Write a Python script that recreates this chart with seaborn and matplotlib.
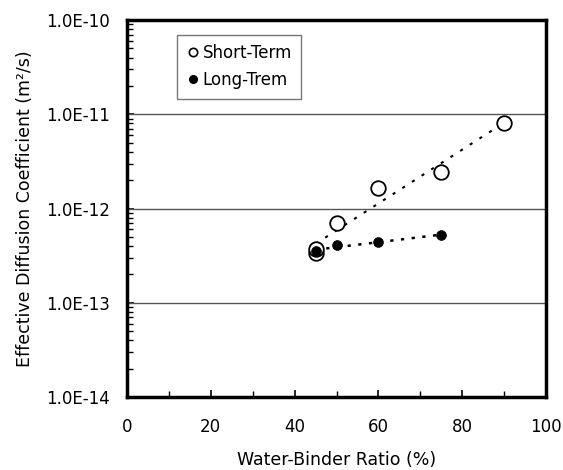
import numpy as np
import pandas as pd
import matplotlib
matplotlib.use("Agg")
import matplotlib.pyplot as plt
from matplotlib.ticker import FixedLocator, LogLocator, NullFormatter, MultipleLocator
from matplotlib.lines import Line2D
import seaborn as sns

# Data
short_wb = [45, 45, 50, 60, 75, 90]
short_d = [3.4e-13, 3.7e-13, 7.1e-13, 1.64e-12, 2.45e-12, 8.1e-12]
long_wb = [45, 50, 60, 75]
long_d = [3.5e-13, 4.1e-13, 4.37e-13, 5.25e-13]
y_ticks = [1e-14, 1e-13, 1e-12, 1e-11, 1e-10]
y_tick_labels = ["1.0E-14", "1.0E-13", "1.0E-12", "1.0E-11", "1.0E-10"]
x_ticks = [0, 20, 40, 60, 80, 100]

sns.set_theme(style="white")
plt.rcParams["font.family"] = ["DejaVu Sans"]
plt.rcParams["text.color"] = "black"

fig = plt.figure(figsize=(5.63, 4.70), dpi=100)
ax = fig.add_axes([127 / 563, 1 - 397 / 470, 419 / 563, 377 / 470])

# exponential trend lines (fit in log space)
def trend(x, y):
    x = np.asarray(x, float)
    c = np.polyfit(x, np.log10(y), 1)
    xs = np.linspace(x.min(), x.max(), 50)
    return xs, 10 ** np.polyval(c, xs)

xs, ys = trend(short_wb, short_d)
ax.plot(xs, ys, color="black", lw=1.5, ls=(0, (1.5, 4.0)), zorder=2)
xl, yl = trend(long_wb, long_d)
ax.plot(xl, yl, color="black", lw=1.8, ls=(0, (1.3, 3.0)), zorder=2)

df_s = pd.DataFrame({"x": short_wb, "y": short_d})
df_l = pd.DataFrame({"x": long_wb, "y": long_d})
sns.scatterplot(data=df_s, x="x", y="y", ax=ax, marker="o", s=110,
                facecolor="white", edgecolor="black", linewidth=1.3,
                zorder=3, legend=False)
sns.scatterplot(data=df_l, x="x", y="y", ax=ax, marker="o", s=50,
                color="black", edgecolor="black", linewidth=0.5,
                zorder=4, legend=False)

ax.set_yscale("log")
ax.set_xlim(0, 100)
ax.set_ylim(1e-14, 1e-10)
ax.yaxis.set_major_locator(FixedLocator(y_ticks))
ax.set_yticklabels(y_tick_labels)
ax.yaxis.set_minor_locator(LogLocator(base=10, subs=np.arange(2, 10)))
ax.yaxis.set_minor_formatter(NullFormatter())
ax.xaxis.set_major_locator(FixedLocator(x_ticks))
ax.set_xticklabels([str(v) for v in x_ticks])
ax.xaxis.set_minor_locator(MultipleLocator(10))

ax.grid(False)
for v in y_ticks[1:-1]:
    ax.axhline(v, color="#555555", lw=1.0, zorder=1)

for s in ax.spines.values():
    s.set_color("black")
    s.set_linewidth(2.5)

ax.tick_params(axis="both", which="both", direction="in", colors="black",
               labelsize=12, left=True, bottom=True, right=False, top=False)
ax.tick_params(axis="both", which="major", length=5, width=1.2)
ax.tick_params(axis="both", which="minor", length=4, width=1.0)
ax.tick_params(axis="y", which="major", pad=12)
ax.tick_params(axis="x", which="major", pad=15)

ax.set_xlabel("Water-Binder Ratio (%)", fontsize=12.5, color="black", labelpad=11)
ax.set_ylabel("Effective Diffusion Coefficient (m²/s)", fontsize=12.5,
              color="black", labelpad=9)

handles = [
    Line2D([], [], ls="none", marker="o", markersize=6, markerfacecolor="white",
           markeredgecolor="black", markeredgewidth=1.2),
    Line2D([], [], ls="none", marker="o", markersize=5.5, markerfacecolor="black",
           markeredgecolor="black"),
]
leg = ax.legend(handles, ["Short-Term", "Long-Trem"], loc="upper left",
                bbox_to_anchor=(50 / 419, 1 - 15 / 377),
                frameon=True, fancybox=False, fontsize=12, handletextpad=0.2,
                borderpad=0.55, labelspacing=0.55, handlelength=0.8,
                borderaxespad=0, labelcolor="black")
leg.get_frame().set_edgecolor("#555555")
leg.get_frame().set_linewidth(1.0)

fig.savefig("out.png", dpi=100)
